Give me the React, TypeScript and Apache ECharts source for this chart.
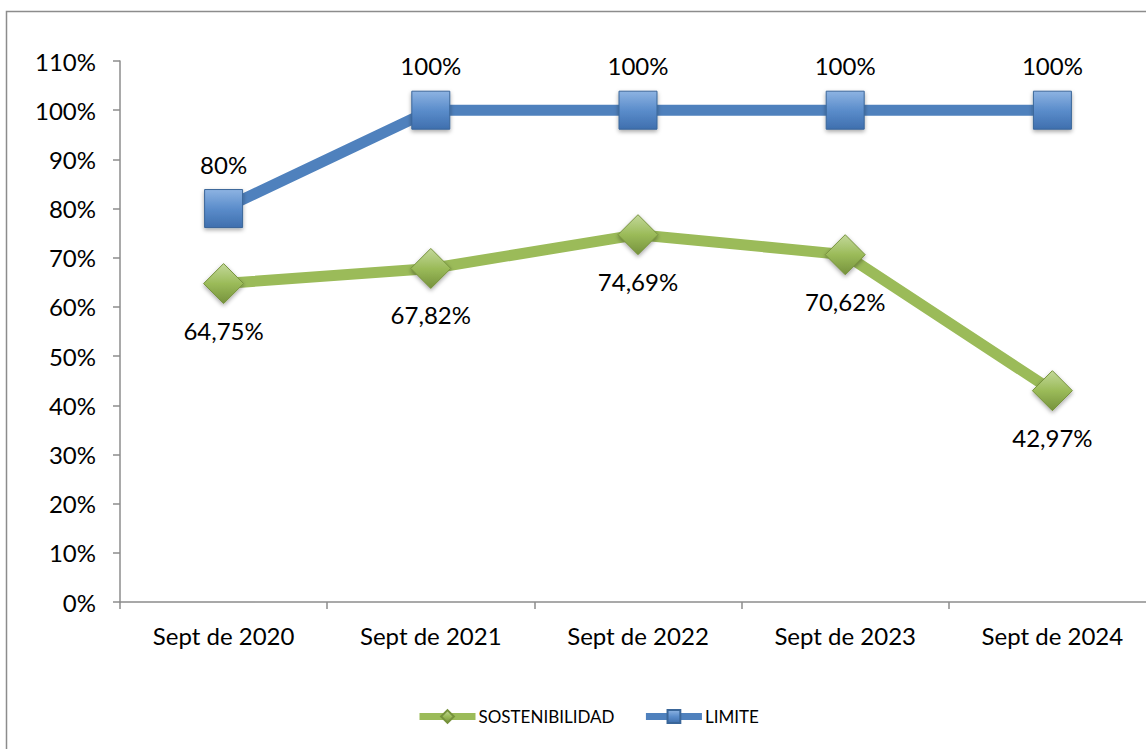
import React, { useEffect, useRef } from "react";
import * as echarts from "echarts";

const categories = ["Sept de 2020", "Sept de 2021", "Sept de 2022", "Sept de 2023", "Sept de 2024"];
const sostenibilidad = [0.6475, 0.6782, 0.7469, 0.7062, 0.4297];
const limite = [0.8, 1, 1, 1, 1];
const seriesNames = ["SOSTENIBILIDAD", "LIMITE"];

const FONT = "Lato, 'Open Sans', sans-serif";

const fmtPct = (v: number) => {
  const p = v * 100;
  if (Math.abs(p - Math.round(p)) < 1e-9) return Math.round(p) + "%";
  return p.toFixed(2).replace(".", ",") + "%";
};

export default function App() {
  const ref = useRef<HTMLDivElement>(null);
  useEffect(() => {
    if (!ref.current) return;
    const chart = echarts.init(ref.current, null, { renderer: "svg" });
    const greenFill = new echarts.graphic.LinearGradient(0, 0, 0, 1, [
      { offset: 0, color: "#C3D89A" },
      { offset: 0.5, color: "#9BBB59" },
      { offset: 1, color: "#76923C" },
    ]);
    const blueFill = new echarts.graphic.LinearGradient(0, 0, 0, 1, [
      { offset: 0, color: "#8DB3E2" },
      { offset: 0.5, color: "#5B8DCB" },
      { offset: 1, color: "#3F6FAE" },
    ]);
    chart.setOption({
      animation: false,
      graphic: [
        {
          type: "rect",
          shape: { x: 6.5, y: 11.5, width: 1180, height: 760 },
          style: { fill: "none", stroke: "#8C8C8C", lineWidth: 1.5 },
          silent: true,
          z: -10,
        },
      ],
      grid: { left: 120, top: 61, width: 1036, height: 541 },
      legend: {
        data: seriesNames,
        top: 708,
        left: 416,
        padding: 0,
        itemWidth: 56,
        itemHeight: 16,
        itemGap: 28,
        textStyle: { fontFamily: FONT, fontSize: 17, color: "#000", padding: [0, 0, 0, -2] },
        lineStyle: { width: 7 },
      },
      xAxis: {
        type: "category",
        data: categories,
        boundaryGap: true,
        axisLine: { lineStyle: { color: "#8C8C8C", width: 1.5 } },
        axisTick: { show: true, length: 7, lineStyle: { color: "#8C8C8C", width: 1.5 } },
        axisLabel: { fontFamily: FONT, fontSize: 24, color: "#000", margin: 21 },
        splitLine: { show: false },
      },
      yAxis: {
        type: "value",
        min: 0,
        max: 1.1,
        interval: 0.1,
        axisLine: { show: true, lineStyle: { color: "#8C8C8C", width: 1.5 } },
        axisTick: { show: true, length: 7, lineStyle: { color: "#8C8C8C", width: 1.5 } },
        axisLabel: {
          fontFamily: FONT,
          fontSize: 24,
          color: "#000",
          margin: 24,
          formatter: (v: number) => Math.round(v * 100) + "%",
        },
        splitLine: { show: false },
      },
      series: [
        {
          name: seriesNames[0],
          type: "line",
          data: sostenibilidad,
          symbol: "diamond",
          symbolSize: [40, 40],
          lineStyle: { color: "#9BBB59", width: 11 },
          itemStyle: {
            color: greenFill,
            borderColor: "#76923C",
            borderWidth: 1,
            shadowBlur: 4,
            shadowColor: "rgba(0,0,0,0.35)",
            shadowOffsetY: 2,
          },
          label: {
            show: true,
            position: "bottom",
            distance: 14,
            fontFamily: FONT,
            fontSize: 24,
            color: "#000",
            formatter: (p: any) => fmtPct(p.value),
          },
          z: 2,
        },
        {
          name: seriesNames[1],
          type: "line",
          data: limite,
          symbol: "rect",
          symbolSize: [38, 38],
          lineStyle: { color: "#4F81BD", width: 11 },
          itemStyle: {
            color: blueFill,
            borderColor: "#3A6699",
            borderWidth: 1,
            shadowBlur: 4,
            shadowColor: "rgba(0,0,0,0.35)",
            shadowOffsetY: 2,
          },
          label: {
            show: true,
            position: "top",
            distance: 13,
            fontFamily: FONT,
            fontSize: 24,
            color: "#000",
            formatter: (p: any) => fmtPct(p.value),
          },
          z: 3,
        },
      ],
    });
    return () => chart.dispose();
  }, []);
  return (
    <div style={{ position: "absolute", left: 0, top: 0, width: 1146, height: 749, overflow: "hidden", background: "#fff" }}>
      <div ref={ref} style={{ width: 1200, height: 749 }} />
    </div>
  );
}
